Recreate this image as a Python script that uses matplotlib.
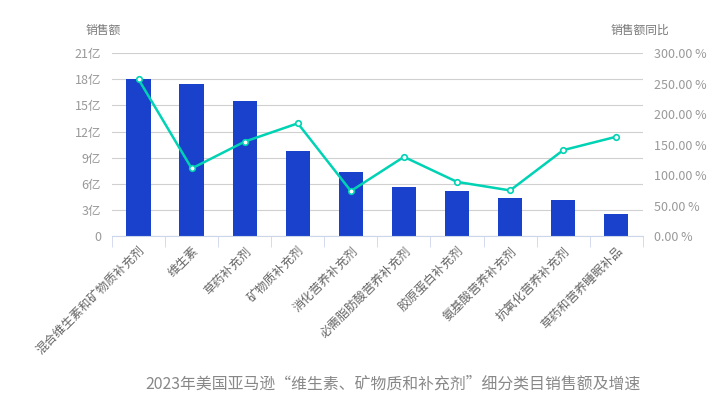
import matplotlib.pyplot as plt
from matplotlib.ticker import FuncFormatter

plt.rcParams['font.family'] = ['Noto Sans CJK SC', 'DejaVu Sans']

categories = ['混合维生素和矿物质补充剂', '维生素', '草药补充剂', '矿物质补充剂', '消化营养补充剂',
              '必需脂肪酸营养补充剂', '胶原蛋白补充剂', '氨基酸营养补充剂', '抗氧化营养补充剂', '草药和营养睡眠补品']
sales = [18.05, 17.45, 15.5, 9.8, 7.35, 5.65, 5.15, 4.35, 4.15, 2.5]
growth = [257, 111, 155, 185, 74, 130, 89, 75, 141, 163]

GRAY = '#999999'


def main():
    fig = plt.figure(figsize=(7.23, 4.03), dpi=100)
    ax = fig.add_axes([0.155, 0.414, 0.734, 0.454])
    pos = range(len(categories))

    ax.bar(pos, sales, width=0.46, color='#1941cc', zorder=2)
    ax.set_ylim(0, 21)
    ax.set_xlim(-0.5, len(categories) - 0.5)
    ax.set_yticks(range(0, 22, 3))
    ax.yaxis.set_major_formatter(FuncFormatter(lambda v, p: '0' if v == 0 else '%d亿' % v))
    ax.grid(axis='y', color='#d0d0d0', linewidth=0.8, zorder=0)
    ax.set_xticks(pos)
    ax.set_xticklabels(categories, rotation=45, ha='right', rotation_mode='anchor',
                       fontsize=8.8, color='#666666')
    ax.tick_params(axis='x', length=0, pad=6)
    ax.set_xticks([i + 0.5 for i in range(-1, len(categories))], minor=True)
    ax.tick_params(axis='x', which='minor', length=8, color='#ccd6eb')
    ax.tick_params(axis='y', length=0, labelsize=9, colors=GRAY, pad=8)
    for s in ['top', 'right', 'left']:
        ax.spines[s].set_visible(False)
    ax.spines['bottom'].set_color('#ccd6eb')

    ax2 = ax.twinx()
    ax2.plot(pos, growth, color='#00d2b4', linewidth=1.8, marker='o', markersize=4,
             markerfacecolor='white', markeredgecolor='#00d2b4', markeredgewidth=1.2, zorder=3)
    ax2.set_ylim(0, 300)
    ax2.set_yticks(range(0, 301, 50))
    ax2.yaxis.set_major_formatter(FuncFormatter(lambda v, p: '%.2f %%' % v))
    ax2.tick_params(axis='y', length=0, labelsize=9, colors=GRAY, pad=8)
    for s in ['top', 'right', 'left', 'bottom']:
        ax2.spines[s].set_visible(False)

    fig.text(0.143, 0.915, '销售额', fontsize=8.5, color='#777777', ha='center')
    fig.text(0.885, 0.915, '销售额同比', fontsize=8.5, color='#777777', ha='center')
    fig.text(0.543, 0.035, '2023年美国亚马逊“维生素、矿物质和补充剂”细分类目销售额及增速',
             fontsize=11.4, color='#888888', ha='center')

    fig.savefig('out.png', dpi=100)


if __name__ == '__main__':
    main()
